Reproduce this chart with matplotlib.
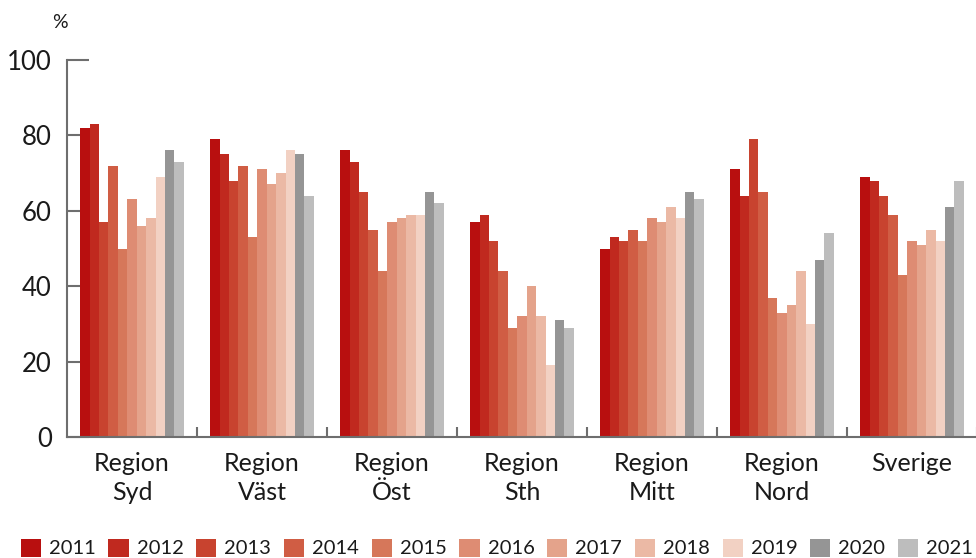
import matplotlib
matplotlib.use("Agg")
import matplotlib.pyplot as plt
import numpy as np
from matplotlib.patches import Patch

plt.rcParams['font.family'] = ['Lato', 'DejaVu Sans']

regions = ["Region\nSyd", "Region\nVäst", "Region\nÖst", "Region\nSth",
           "Region\nMitt", "Region\nNord", "Sverige"]
years = ["2011", "2012", "2013", "2014", "2015", "2016",
         "2017", "2018", "2019", "2020", "2021"]

# Share (%) per region, one list per year
v2011 = [82, 79, 76, 57, 50, 71, 69]
v2012 = [83, 75, 73, 59, 53, 64, 68]
v2013 = [57, 68, 65, 52, 52, 79, 64]
v2014 = [72, 72, 55, 44, 55, 65, 59]
v2015 = [50, 53, 44, 29, 52, 37, 43]
v2016 = [63, 71, 57, 32, 58, 33, 52]
v2017 = [56, 67, 58, 40, 57, 35, 51]
v2018 = [58, 70, 59, 32, 61, 44, 55]
v2019 = [69, 76, 59, 19, 58, 30, 52]
v2020 = [76, 75, 65, 31, 65, 47, 61]
v2021 = [73, 64, 62, 29, 63, 54, 68]
series = [v2011, v2012, v2013, v2014, v2015, v2016,
          v2017, v2018, v2019, v2020, v2021]

colors = ["#B80F0F", "#C0291F", "#C8432F", "#D05D44", "#D6775A", "#DE8C73",
          "#E4A38B", "#EBB9A5", "#F2D1C3", "#959595", "#BDBDBD"]

fig = plt.figure(figsize=(9.76, 5.58), dpi=100)
ax = fig.add_axes([67 / 976, 121 / 558, 910 / 976, 377 / 558])

x = np.arange(len(regions))
n = len(series)
bw = 0.0725
offsets = (np.arange(n) - (n - 1) / 2) * bw
for vals, off, col in zip(series, offsets, colors):
    ax.bar(x + off, vals, width=bw, color=col, linewidth=0, zorder=2)

ax.set_xlim(-0.5, len(regions) - 0.5)
ax.set_ylim(0, 100)
ax.set_axisbelow(True)

axis_col = "#6E6E6E"
for s in ["top", "right"]:
    ax.spines[s].set_visible(False)
for s in ["left", "bottom"]:
    ax.spines[s].set_color(axis_col)
    ax.spines[s].set_linewidth(1.5)

ax.set_yticks([0, 20, 40, 60, 80, 100])
ax.tick_params(axis="y", direction="in", length=16, width=1.5, color=axis_col,
               labelsize=18.5, pad=11, labelcolor="#1a1a1a")

ax.set_xticks(x)
ax.set_xticklabels(regions, fontsize=18, linespacing=1.3, color="#1a1a1a")
ax.tick_params(axis="x", which="major", length=0, pad=11)
ax.set_xticks(np.arange(len(regions)) + 0.5, minor=True)
ax.tick_params(axis="x", which="minor", direction="in", length=7, width=1.5,
               color=axis_col)

fig.text(60 / 976, 1 - 23 / 558, "%", fontsize=14, ha="center", va="center",
         color="#1a1a1a")

handles = [Patch(facecolor=c, edgecolor="none", label=y) for c, y in zip(colors, years)]
fig.legend(handles=handles, loc="center", ncol=n, frameon=False,
           bbox_to_anchor=(497 / 976, 1 - 548 / 558), fontsize=14.5,
           handlelength=1.0, handleheight=1.0, handletextpad=0.4,
           columnspacing=0.63, borderaxespad=0, labelcolor="#1a1a1a")

fig.savefig("out.png", dpi=100)
